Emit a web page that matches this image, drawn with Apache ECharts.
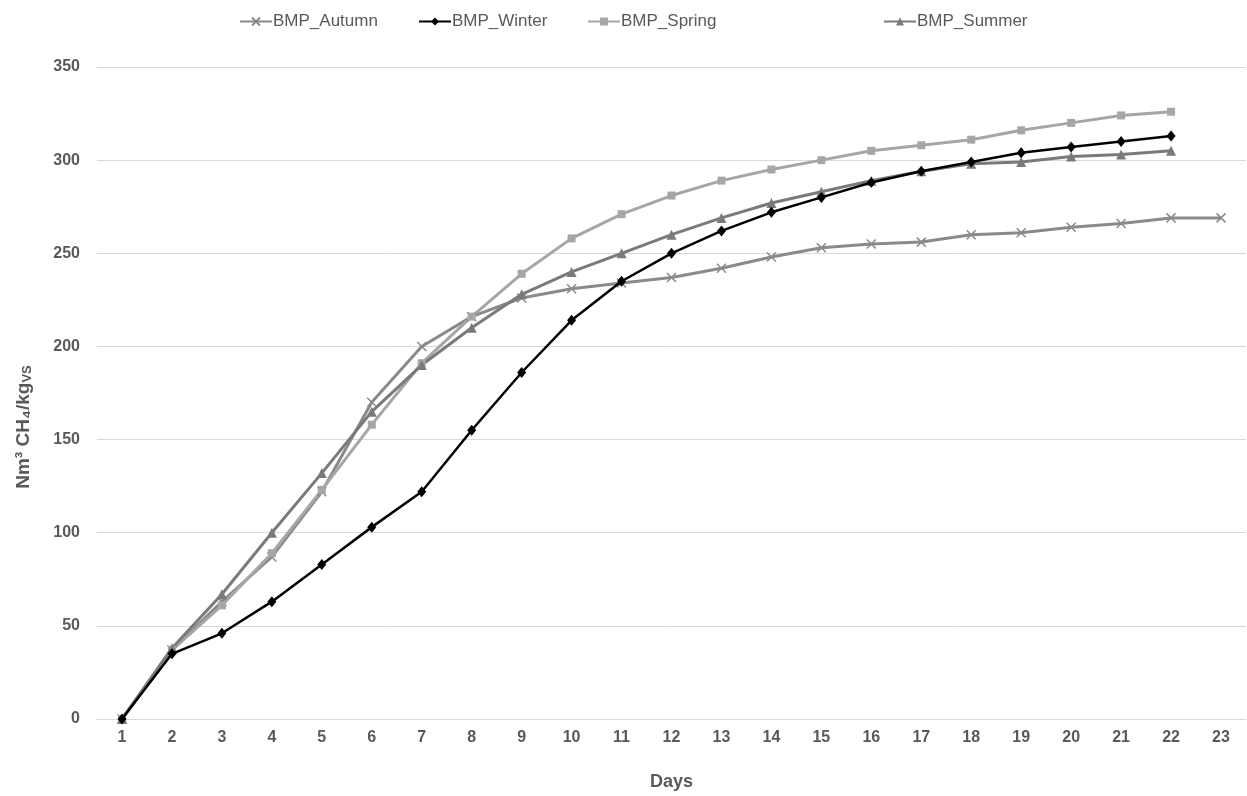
<!DOCTYPE html>
<html><head><meta charset="utf-8">
<script src="https://cdn.jsdelivr.net/npm/echarts@6/dist/echarts.min.js"></script>
<style>html,body{margin:0;padding:0;background:#fff}#c{width:1247px;height:796px}</style>
</head><body><div id="c"></div>
<script>
const days = ['1','2','3','4','5','6','7','8','9','10','11','12','13','14','15','16','17','18','19','20','21','22','23'];
const autumn = [0,37,63,87,122,170,200,216,226,231,234,237,242,248,253,255,256,260,261,264,266,269,269];
const winter = [0,35,46,63,83,103,122,155,186,214,235,250,262,272,280,288,294,299,304,307,310,313];
const spring = [0,37,61,89,123,158,191,216,239,258,271,281,289,295,300,305,308,311,316,320,324,326];
const summer = [0,38,67,100,132,165,190,210,228,240,250,260,269,277,283,289,294,298,299,302,303,305];
const seriesNames = ['BMP_Autumn','BMP_Winter','BMP_Spring','BMP_Summer'];

const font = 'Liberation Sans, Arial, sans-serif';
const xPath = 'path://M0,0L10,10M10,0L0,10';
function legend(name, left){
  return {data:[name], left:left, top:8, itemWidth:32, itemHeight:10, itemGap:0,
    textStyle:{fontFamily:font, fontSize:17, color:'#595959', padding:[0,0,0,-4]}};
}
const chart = echarts.init(document.getElementById('c'), null, {renderer:'canvas'});
chart.setOption({
  animation:false,
  backgroundColor:'#fff',
  legend:[legend(seriesNames[0],234), legend(seriesNames[1],413), legend(seriesNames[2],582), legend(seriesNames[3],878)],
  grid:{left:97, right:1, top:67, bottom:74, containLabel:false},
  xAxis:{type:'category', data:days, boundaryGap:true,
    name:'Days', nameLocation:'middle', nameGap:54,
    nameTextStyle:{fontFamily:font, fontSize:18, fontWeight:'bold', color:'#595959'},
    axisLine:{lineStyle:{color:'#d9d9d9', width:1}}, axisTick:{show:false},
    axisLabel:{fontFamily:font, fontSize:16, fontWeight:'bold', color:'#595959', margin:11}},
  yAxis:{type:'value', min:0, max:350, interval:50,
    name:'{a|Nm³ CH₄/kg}{b|VS}', nameLocation:'middle', nameGap:63, nameRotate:90,
    nameTextStyle:{padding:[0,68,0,0], rich:{a:{fontFamily:font, fontSize:19, fontWeight:'bold', color:'#595959'},
      b:{fontFamily:font, fontSize:13, fontWeight:'bold', color:'#595959', padding:[8,0,0,0]}}},
    axisLine:{show:false}, axisTick:{show:false},
    splitLine:{lineStyle:{color:'#d9d9d9', width:1}},
    axisLabel:{fontFamily:font, fontSize:16, fontWeight:'bold', color:'#595959', margin:17}},
  series:[
    {name:seriesNames[0], type:'line', data:autumn, showAllSymbol:true, symbol:xPath, symbolSize:9,
      lineStyle:{color:'#8a8a8a', width:3}, itemStyle:{color:'#8a8a8a', borderColor:'#8a8a8a', borderWidth:1.5}, z:2},
    {name:seriesNames[1], type:'line', data:winter, showAllSymbol:true, symbol:'diamond', symbolSize:[9,11],
      lineStyle:{color:'#000', width:2.5}, itemStyle:{color:'#000'}, z:3},
    {name:seriesNames[2], type:'line', data:spring, showAllSymbol:true, symbol:'rect', symbolSize:8,
      lineStyle:{color:'#a6a6a6', width:3}, itemStyle:{color:'#a6a6a6'}, z:2},
    {name:seriesNames[3], type:'line', data:summer, showAllSymbol:true, symbol:'triangle', symbolSize:10,
      lineStyle:{color:'#7a7a7a', width:3}, itemStyle:{color:'#7a7a7a'}, z:2}
  ]
});
</script></body></html>
